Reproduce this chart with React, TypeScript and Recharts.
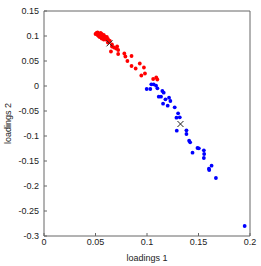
import React from 'react';
import { ScatterChart, Scatter, XAxis, YAxis } from 'recharts';

// loadings as [loadings 1, loadings 2]
const redPoints: [number, number][] = [
  [0.050, 0.104], [0.051, 0.106], [0.052, 0.102], [0.053, 0.105], [0.054, 0.103],
  [0.052, 0.107], [0.055, 0.101], [0.056, 0.104], [0.055, 0.106], [0.057, 0.1],
  [0.058, 0.102], [0.057, 0.097], [0.059, 0.099], [0.06, 0.096], [0.061, 0.098],
  [0.06, 0.093], [0.062, 0.094], [0.063, 0.091], [0.058, 0.093], [0.056, 0.095],
  [0.054, 0.098], [0.053, 0.1], [0.064, 0.09], [0.062, 0.087], [0.066, 0.083],
  [0.065, 0.069], [0.066, 0.079], [0.068, 0.077], [0.07, 0.075], [0.071, 0.079],
  [0.072, 0.072], [0.072, 0.064], [0.078, 0.065], [0.079, 0.059], [0.085, 0.06],
  [0.081, 0.05], [0.085, 0.04], [0.089, 0.035], [0.093, 0.045], [0.097, 0.037],
  [0.098, 0.025], [0.0945, 0.021], [0.106, 0.014], [0.109, 0.017], [0.11, 0.013],
];

const bluePoints: [number, number][] = [
  [0.0997, -0.006], [0.1032, -0.006], [0.1042, 0.0033], [0.1065, 0.0033], [0.1088, 0.0007],
  [0.1101, -0.0047], [0.1149, -0.01], [0.1162, -0.0133], [0.1114, -0.0213], [0.1136, -0.0213],
  [0.1179, -0.0267], [0.1214, -0.0233], [0.1227, -0.03], [0.1156, -0.0353], [0.1201, -0.0393],
  [0.1269, -0.0427], [0.1302, -0.0547], [0.1286, -0.0633], [0.1318, -0.0627], [0.1289, -0.0893],
  [0.1383, -0.0887], [0.1383, -0.096], [0.1409, -0.1093], [0.1419, -0.1127], [0.1442, -0.1333],
  [0.149, -0.124], [0.1503, -0.1247], [0.1552, -0.1287], [0.1555, -0.136], [0.1552, -0.144],
  [0.1601, -0.1653], [0.1604, -0.168], [0.1627, -0.1593], [0.1669, -0.184], [0.1948, -0.28],
];

const centroids: [number, number][] = [
  [0.0636, 0.0853],
  [0.1325, -0.076],
];

const xTicks = [0, 0.05, 0.1, 0.15, 0.2];
const yTicks = [-0.3, -0.25, -0.2, -0.15, -0.1, -0.05, 0, 0.05, 0.1, 0.15];
const xLabel = 'loadings 1';
const yLabel = 'loadings 2';

const toRows = (pts: [number, number][]) => pts.map(([x, y]) => ({ x, y }));

const AXIS = '#666';
const TICK = { fill: '#222', fontSize: 9, fontFamily: 'Liberation Sans, Arial, sans-serif' };

const Dot = (color: string) => (p: any) => <circle cx={p.cx} cy={p.cy} r={1.9} fill={color} />;

const Cross = (p: any) => {
  const s = 3;
  return (
    <g stroke="#222" strokeWidth={1}>
      <line x1={p.cx - s} y1={p.cy - s} x2={p.cx + s} y2={p.cy + s} />
      <line x1={p.cx - s} y1={p.cy + s} x2={p.cx + s} y2={p.cy - s} />
    </g>
  );
};

const fmt = (v: number) => String(v);

const XTitle = (props: any) => {
  const vb = props.viewBox;
  return (
    <text x={vb.x + vb.width / 2} y={vb.y + 22} textAnchor="middle" dominantBaseline="central" style={TICK}>
      {xLabel}
    </text>
  );
};

const YTitle = (props: any) => {
  const vb = props.viewBox;
  const cx = vb.x + 8;
  const cy = vb.y + vb.height / 2;
  return (
    <text x={cx} y={cy} transform={`rotate(-90 ${cx} ${cy})`} textAnchor="middle" dominantBaseline="central" style={TICK}>
      {yLabel}
    </text>
  );
};

export default function App() {
  return (
    <div style={{ position: 'absolute', left: 0, top: 0, width: 261, height: 266, background: '#fff' }}>
      <ScatterChart width={261} height={266} margin={{ top: 10, right: 10, bottom: 0, left: 0 }}>
        <XAxis
          xAxisId="b" type="number" dataKey="x" domain={[0, 0.2]} ticks={xTicks} tickFormatter={fmt}
          height={30} stroke={AXIS} tick={TICK} tickSize={-3} tickMargin={6} allowDataOverflow
          label={<XTitle />}
        />
        <XAxis
          xAxisId="t" orientation="top" type="number" domain={[0, 0.2]} ticks={xTicks}
          height={1} stroke={AXIS} tick={false} tickSize={-3} allowDataOverflow
        />
        <YAxis
          yAxisId="l" type="number" dataKey="y" domain={[-0.3, 0.15]} ticks={yTicks} tickFormatter={fmt}
          width={44} stroke={AXIS} tick={TICK} tickSize={-3} tickMargin={8} allowDataOverflow
          label={<YTitle />}
        />
        <YAxis
          yAxisId="r" orientation="right" type="number" domain={[-0.3, 0.15]} ticks={yTicks}
          width={1} stroke={AXIS} tick={false} tickSize={-3} allowDataOverflow
        />
        <Scatter xAxisId="b" yAxisId="l" data={toRows(redPoints)} shape={Dot('#ff0000')} isAnimationActive={false} />
        <Scatter xAxisId="b" yAxisId="l" data={toRows(bluePoints)} shape={Dot('#0000ff')} isAnimationActive={false} />
        <Scatter xAxisId="b" yAxisId="l" data={toRows(centroids)} shape={Cross} isAnimationActive={false} />
      </ScatterChart>
    </div>
  );
}
